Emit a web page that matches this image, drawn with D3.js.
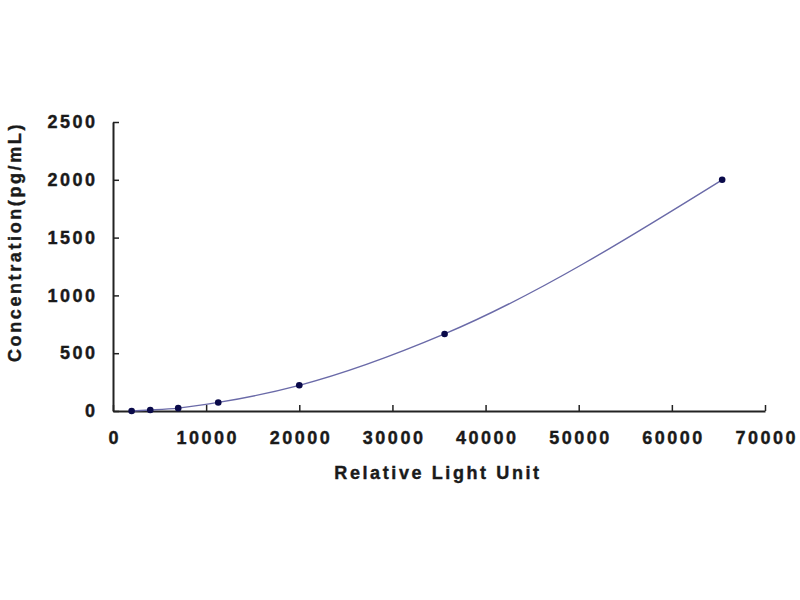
<!DOCTYPE html>
<html lang="en">
<head>
<meta charset="UTF-8">
<title>Standard Curve</title>
<script src="https://d3js.org/d3.v7.min.js"></script>
<style>
    body { margin: 0; background: #fff; }
    .tick text { font-family: "Liberation Sans", Arial, sans-serif; font-weight: bold; font-size: 18px; letter-spacing: 2.5px; fill: #1a1a1a; stroke: #1a1a1a; stroke-width: 0.4px; }
    .axis-title { font-family: "Liberation Sans", Arial, sans-serif; font-weight: bold; font-size: 18px; letter-spacing: 2.6px; fill: #1a1a1a; stroke: #1a1a1a; stroke-width: 0.4px; }
</style>
</head>
<body>
<svg width="800" height="600"></svg>
<script>
    // standard curve data
    const rlu = [2000, 4000, 7000, 11300, 20000, 35600, 65400];
    const conc = [0, 8.2, 24.7, 74.1, 222.2, 666.7, 2000];
    const xTicks = [0, 10000, 20000, 30000, 40000, 50000, 60000, 70000];
    const yTicks = [0, 500, 1000, 1500, 2000, 2500];

    const svg = d3.select("svg");
    const plotLeft = 113, plotRight = 765, plotTop = 122, plotBottom = 411;

    const x = d3.scaleLinear().domain([0, 70000]).range([plotLeft, plotRight]);
    const y = d3.scaleLinear().domain([0, 2500]).range([plotBottom, plotTop]);

    // x axis, ticks pointing up
    const gx = svg.append("g")
        .attr("transform", `translate(0,${plotBottom})`)
        .call(d3.axisBottom(x).tickValues(xTicks).tickFormat(d3.format("d"))
            .tickSize(-6).tickPadding(20).tickSizeOuter(0));
    gx.select(".domain").attr("stroke", "#222").attr("stroke-width", 2);
    gx.selectAll(".tick line").attr("stroke", "#222").attr("stroke-width", 1.5);
    gx.selectAll(".tick text").attr("dx", "1.2px");

    // y axis, ticks pointing right
    const gy = svg.append("g")
        .attr("transform", `translate(${plotLeft},0)`)
        .call(d3.axisLeft(y).tickValues(yTicks).tickFormat(d3.format("d"))
            .tickSize(-6).tickPadding(15.5).tickSizeOuter(0));
    gy.select(".domain").attr("stroke", "#222").attr("stroke-width", 2);
    gy.selectAll(".tick line").attr("stroke", "#222").attr("stroke-width", 1.5);

    // fitted curve
    const pts = rlu.map((v, i) => [v, conc[i]]);
    const line = d3.line()
        .x(d => x(d[0]))
        .y(d => y(d[1]))
        .curve(d3.curveMonotoneX);
    svg.append("path")
        .datum(pts)
        .attr("d", line)
        .attr("fill", "none")
        .attr("stroke", "#6a6aa8")
        .attr("stroke-width", 1.4);

    // markers
    svg.selectAll(".pt")
        .data(pts)
        .enter()
        .append("circle")
        .attr("class", "pt")
        .attr("cx", d => x(d[0]))
        .attr("cy", d => y(d[1]))
        .attr("r", 3.3)
        .attr("fill", "#0a0a4a");

    // titles
    svg.append("text")
        .attr("class", "axis-title")
        .attr("x", 438)
        .attr("y", 479)
        .attr("text-anchor", "middle")
        .text("Relative Light Unit");

    svg.append("text")
        .attr("class", "axis-title")
        .attr("transform", "translate(21,242) rotate(-90)")
        .attr("text-anchor", "middle")
        .text("Concentration(pg/mL)");
</script>
</body>
</html>
